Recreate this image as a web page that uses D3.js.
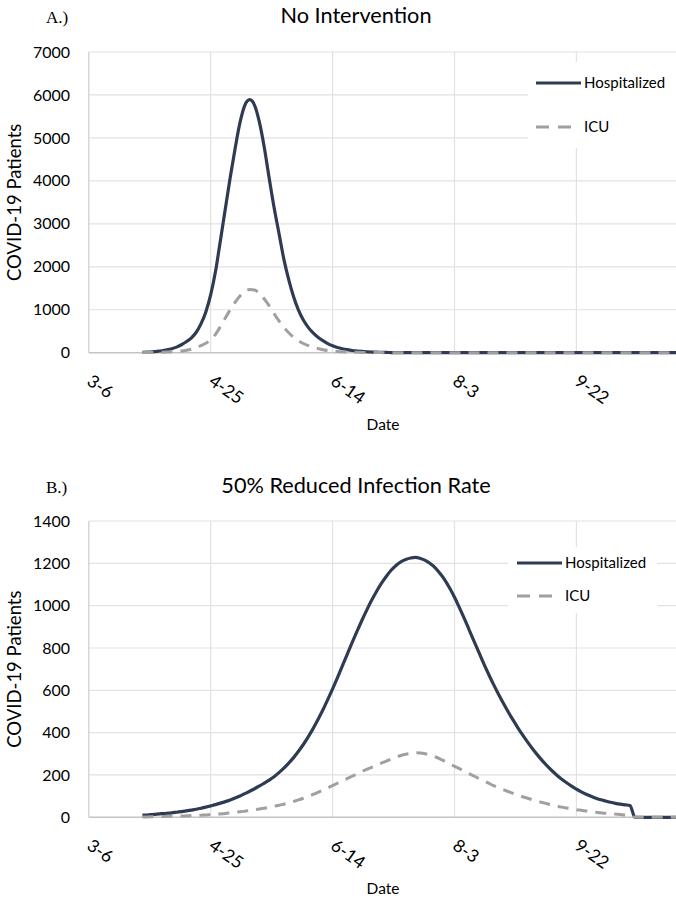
<!DOCTYPE html>
<html>
<head>
<meta charset="utf-8">
<script src="https://cdn.jsdelivr.net/npm/d3@7/dist/d3.min.js"></script>
<style>
  body { margin: 0; background: #fff; }
  text { font-family: Lato, "Open Sans", sans-serif; fill: #000; }
</style>
</head>
<body>
<div id="chart"></div>
<script>
// x axis tick labels (month-day, 2020), one every 50 days
var xTickLabels = ["3-6", "4-25", "6-14", "8-3", "9-22", "11-11"];
// every series starts on 3-28 and has one value every 2 days
var firstDate = "3-28";

// A.) No Intervention
var hospA = [10, 15, 22, 32, 46, 66, 92, 130, 185, 255,
  340, 470, 670, 950, 1350, 1900, 2620, 3350, 4080, 4750,
  5355, 5760, 5890, 5760, 5360, 4770, 4060, 3380, 2780, 2180,
  1700, 1300, 990, 760, 590, 460, 360, 280, 210, 160,
  120, 92, 70, 52, 40, 30, 22, 16, 12, 9,
  6, 4, 3, 2, 1, 0, 0, 0, 0, 0,
  0, 0, 0, 0, 0, 0, 0, 0, 0, 0,
  0, 0, 0, 0, 0, 0, 0, 0, 0, 0,
  0, 0, 0, 0, 0, 0, 0, 0, 0, 0,
  0, 0, 0, 0, 0, 0, 0, 0, 0, 0,
  0, 0, 0, 0, 0, 0, 0, 0, 0, 0, 0];
var icuA = [2, 3, 5, 7, 10, 14, 20, 28, 38, 55,
  80, 115, 165, 220, 300, 430, 610, 810, 1000, 1170,
  1320, 1420, 1470, 1460, 1380, 1250, 1090, 910, 740, 590,
  465, 360, 280, 215, 165, 125, 95, 68, 50, 38,
  28, 21, 16, 12, 9, 7, 5, 4, 3, 2,
  1, 1, 0, 0, 0, 0, 0, 0, 0, 0,
  0, 0, 0, 0, 0, 0, 0, 0, 0, 0,
  0, 0, 0, 0, 0, 0, 0, 0, 0, 0,
  0, 0, 0, 0, 0, 0, 0, 0, 0, 0,
  0, 0, 0, 0, 0, 0, 0, 0, 0, 0,
  0, 0, 0, 0, 0, 0, 0, 0, 0, 0, 0];

// B.) 50% Reduced Infection Rate
var hospB = [10, 11, 13, 15, 17, 19, 21, 24, 27, 30,
  34, 38, 43, 48, 54, 60, 67, 74, 82, 91,
  101, 112, 123, 135, 148, 162, 176, 192, 211, 232,
  256, 282, 312, 344, 380, 419, 462, 507, 556, 607,
  660, 715, 770, 825, 878, 930, 979, 1025, 1067, 1105,
  1138, 1167, 1190, 1207, 1218, 1225, 1228, 1223, 1214, 1199,
  1180, 1153, 1122, 1083, 1040, 991, 940, 886, 832, 779,
  726, 676, 628, 583, 540, 499, 460, 423, 388, 355,
  324, 295, 268, 243, 220, 199, 180, 163, 147, 133,
  120, 109, 99, 90, 83, 77, 71, 66, 62, 59,
  56, 0, 0, 0, 0, 0, 0, 0, 0, 0, 0];
var icuB = [2, 2, 3, 3, 4, 4, 5, 6, 6, 7,
  8, 9, 10, 11, 13, 14, 16, 18, 21, 24,
  26, 29, 32, 35, 39, 43, 47, 52, 57, 62,
  68, 75, 82, 90, 99, 108, 118, 128, 139, 150,
  161, 172, 183, 194, 205, 216, 226, 236, 246, 256,
  265, 275, 284, 292, 298, 302, 305, 304, 300, 294,
  286, 276, 265, 253, 241, 230, 218, 206, 195, 183,
  172, 161, 150, 140, 131, 122, 113, 105, 97, 90,
  83, 76, 70, 64, 58, 53, 48, 44, 40, 36,
  33, 30, 27, 24, 21, 19, 17, 15, 13, 11,
  10, 0, 0, 0, 0, 0, 0, 0, 0, 0, 0];

var width = 676, height = 898;
var parseDate = d3.timeParse("%Y-%m-%d");
function toDate(s) { return parseDate("2020-" + s.split("-").map(function(p) { return ("0" + p).slice(-2); }).join("-")); }

var tickDates = xTickLabels.map(toDate);
var start = toDate(firstDate);
var dates = hospA.map(function(d, i) { return d3.timeDay.offset(start, 2 * i); });

var hospColor = "#2f3b52", icuColor = "#a0a0a0";

var svg = d3.select("#chart").append("svg")
    .attr("width", width)
    .attr("height", height);

var x = d3.scaleTime()
    .domain([tickDates[0], tickDates[tickDates.length - 1]])
    .range([88.8, 88.8 + 2.438 * 250]);

function drawPanel(p) {
  var g = svg.append("g");
  var y = d3.scaleLinear().domain([0, p.yMax]).range([p.y0, p.y1]);
  var yTicks = d3.range(0, p.yMax + 1, p.yStep);

  // gridlines
  g.selectAll(".hgrid")
    .data(yTicks.slice(1))
    .enter().append("line")
      .attr("x1", x.range()[0]).attr("x2", x.range()[1])
      .attr("y1", function(d) { return y(d); })
      .attr("y2", function(d) { return y(d); })
      .style("stroke", "#e2e2e2").style("stroke-width", 1.2);
  g.selectAll(".vgrid")
    .data(tickDates.slice(1))
    .enter().append("line")
      .attr("x1", function(d) { return x(d); })
      .attr("x2", function(d) { return x(d); })
      .attr("y1", p.y1).attr("y2", p.y0)
      .style("stroke", "#e2e2e2").style("stroke-width", 1.2);

  // axis lines
  g.append("line")
    .attr("x1", x.range()[0]).attr("x2", x.range()[0])
    .attr("y1", p.y1).attr("y2", p.y0)
    .style("stroke", "#d0d0d0").style("stroke-width", 1.3);
  g.append("line")
    .attr("x1", x.range()[0]).attr("x2", x.range()[1])
    .attr("y1", p.y0).attr("y2", p.y0)
    .style("stroke", "#c4c4c4").style("stroke-width", 1.5);

  // y tick labels
  g.selectAll(".ylab")
    .data(yTicks)
    .enter().append("text")
      .attr("x", 70)
      .attr("y", function(d) { return y(d); })
      .attr("dy", "0.35em")
      .style("text-anchor", "end")
      .style("font-size", "16px")
      .text(function(d) { return d; });

  // x tick labels, slanted
  g.selectAll(".xlab")
    .data(tickDates.slice(0, 5))
    .enter().append("text")
      .attr("transform", function(d) { return "translate(" + (x(d) - 3) + "," + (p.y0 + 31) + ") rotate(35)"; })
      .style("font-size", "17.5px")
      .text(function(d, i) { return xTickLabels[i]; });

  // axis titles
  g.append("text")
    .attr("x", 383).attr("y", p.y0 + 77)
    .style("text-anchor", "middle")
    .style("font-size", "15.5px")
    .text("Date");
  g.append("text")
    .attr("transform", "translate(21," + ((p.y0 + p.y1) / 2) + ") rotate(-90)")
    .style("text-anchor", "middle")
    .style("font-size", "18.5px")
    .text("COVID-19 Patients");

  // title and panel letter
  g.append("text")
    .attr("x", 356).attr("y", p.titleY)
    .style("text-anchor", "middle")
    .style("font-size", "21.7px")
    .text(p.title);
  g.append("text")
    .attr("x", 46).attr("y", p.titleY)
    .style("font-family", "'Liberation Serif', serif")
    .style("font-size", "17px")
    .text(p.letter);

  // series
  var line = d3.line()
    .x(function(d) { return x(d[0]); })
    .y(function(d) { return y(d[1]); })
    .curve(d3.curveMonotoneX);

  g.append("path")
    .datum(d3.zip(dates, p.hosp))
    .attr("d", line)
    .style("fill", "none").style("stroke", hospColor).style("stroke-width", 3.2);
  g.append("path")
    .datum(d3.zip(dates, p.icu))
    .attr("d", line)
    .style("fill", "none").style("stroke", icuColor).style("stroke-width", 3)
    .style("stroke-dasharray", "11,8");

  // legend
  var lg = g.append("g");
  lg.append("rect")
    .attr("x", p.leg.x).attr("y", p.leg.y)
    .attr("width", p.leg.w).attr("height", p.leg.h)
    .style("fill", "#fff");
  lg.append("line")
    .attr("x1", p.leg.lx).attr("x2", p.leg.lx + 45)
    .attr("y1", p.leg.r1).attr("y2", p.leg.r1)
    .style("stroke", hospColor).style("stroke-width", 3.2);
  lg.append("line")
    .attr("x1", p.leg.lx).attr("x2", p.leg.lx + 38)
    .attr("y1", p.leg.r2).attr("y2", p.leg.r2)
    .style("stroke", icuColor).style("stroke-width", 3)
    .style("stroke-dasharray", "13,9");
  lg.append("text")
    .attr("x", p.leg.lx + 48).attr("y", p.leg.r1).attr("dy", "0.35em")
    .style("font-size", "15px").text("Hospitalized");
  lg.append("text")
    .attr("x", p.leg.lx + 48).attr("y", p.leg.r2).attr("dy", "0.35em")
    .style("font-size", "15px").text("ICU");
}

drawPanel({
  title: "No Intervention", letter: "A.)", titleY: 23,
  yMax: 7000, yStep: 1000, y0: 352.7, y1: 52,
  hosp: hospA, icu: icuA,
  leg: {x: 528, y: 62, w: 150, h: 86, lx: 536, r1: 83, r2: 127}
});

drawPanel({
  title: "50% Reduced Infection Rate", letter: "B.)", titleY: 493,
  yMax: 1400, yStep: 200, y0: 817.3, y1: 521,
  hosp: hospB, icu: icuB,
  leg: {x: 508, y: 547, w: 149, h: 66, lx: 517, r1: 563, r2: 596}
});
</script>
</body>
</html>
